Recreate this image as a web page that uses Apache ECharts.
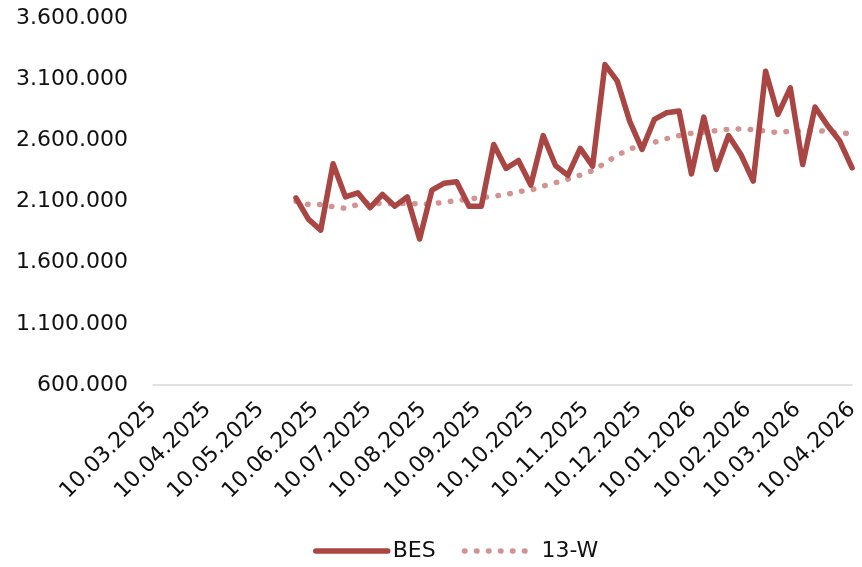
<!DOCTYPE html>
<html>
<head>
<meta charset="utf-8">
<script src="https://cdn.jsdelivr.net/npm/echarts@6/dist/echarts.min.js"></script>
<style>
  html, body { margin: 0; padding: 0; background: #fff; }
  #chart { width: 862px; height: 567px; }
</style>
</head>
<body>
<div id="chart"></div>
<script>
// weekly dates (yyyy-mm-dd)
var weeks = [
  '2025-05-30', '2025-06-06', '2025-06-13', '2025-06-20', '2025-06-27',
  '2025-07-04', '2025-07-11', '2025-07-18', '2025-07-25', '2025-08-01',
  '2025-08-08', '2025-08-15', '2025-08-22', '2025-08-29', '2025-09-05',
  '2025-09-12', '2025-09-19', '2025-09-26', '2025-10-03', '2025-10-10',
  '2025-10-17', '2025-10-24', '2025-10-31', '2025-11-07', '2025-11-14',
  '2025-11-21', '2025-11-28', '2025-12-05', '2025-12-12', '2025-12-19',
  '2025-12-26', '2026-01-02', '2026-01-09', '2026-01-16', '2026-01-23',
  '2026-01-30', '2026-02-06', '2026-02-13', '2026-02-20', '2026-02-27',
  '2026-03-06', '2026-03-13', '2026-03-20', '2026-03-27', '2026-04-03',
  '2026-04-10'
];
var bes = [
  2130000, 1956000, 1866000, 2408000, 2138000, 2171000, 2049000, 2158000, 2062000, 2138000,
  1793000, 2193000, 2250000, 2262000, 2062000, 2062000, 2566000, 2370000, 2435000, 2234000,
  2639000, 2394000, 2313000, 2534000, 2389000, 3219000, 3084000, 2757000, 2526000, 2771000,
  2826000, 2839000, 2326000, 2790000, 2362000, 2639000, 2484000, 2267000, 3165000, 2812000,
  3029000, 2402000, 2872000, 2723000, 2594000, 2375000
];
var w13 = [
  2103000, 2076000, 2076000, 2057000, 2044000, 2076000, 2089000, 2081000, 2084000, 2084000,
  2081000, 2079000, 2095000, 2107000, 2120000, 2132000, 2144000, 2156000, 2181000, 2193000,
  2226000, 2254000, 2283000, 2316000, 2352000, 2414000, 2479000, 2528000, 2565000, 2585000,
  2614000, 2638000, 2659000, 2667000, 2679000, 2691000, 2694000, 2687000, 2675000, 2663000,
  2675000, 2675000, 2683000, 2671000, 2659000, 2656000
];
var xTicks = [
  '10.03.2025', '10.04.2025', '10.05.2025', '10.06.2025', '10.07.2025',
  '10.08.2025', '10.09.2025', '10.10.2025', '10.11.2025', '10.12.2025',
  '10.01.2026', '10.02.2026', '10.03.2026', '10.04.2026'
];
var yTicks = [600000, 1100000, 1600000, 2100000, 2600000, 3100000, 3600000];

var FONT = 'DejaVu Sans';

function isoToTime(s) {
  var p = s.split('-');
  return Date.UTC(+p[0], +p[1] - 1, +p[2]);
}
function dmyToTime(s) {
  var p = s.split('.');
  return Date.UTC(+p[2], +p[1] - 1, +p[0]);
}
function fmtNum(v) {
  return String(v).replace(/\B(?=(\d{3})+(?!\d))/g, '.');
}

var tickTimes = xTicks.map(dmyToTime);

var option = {
  animation: false,
  backgroundColor: '#fff',
  textStyle: { fontFamily: FONT },
  grid: { left: 153, right: 4, top: 18, bottom: 182 },
  legend: {
    left: 308,
    top: 535,
    itemWidth: 72,
    itemHeight: 22,
    itemGap: 26,
    itemStyle: { opacity: 0 },
    lineStyle: { width: 'inherit' },
    textStyle: { fontFamily: FONT, fontSize: 22, color: '#111' },
    data: ['BES', '13-W']
  },
  xAxis: {
    type: 'value',
    min: tickTimes[0],
    max: tickTimes[tickTimes.length - 1],
    axisLine: { lineStyle: { color: '#D9D9D9', width: 1.5 } },
    axisTick: { show: false },
    splitLine: { show: false },
    axisLabel: {
      customValues: tickTimes,
      rotate: 45,
      margin: 21,
      hideOverlap: false,
      showMinLabel: true,
      showMaxLabel: true,
      fontFamily: FONT,
      fontSize: 22,
      color: '#111',
      formatter: function (v) {
        var i = tickTimes.indexOf(v);
        return i >= 0 ? xTicks[i] : '';
      }
    }
  },
  yAxis: {
    type: 'value',
    min: 600000,
    max: 3600000,
    axisLine: { show: false },
    axisTick: { show: false },
    splitLine: { show: false },
    axisLabel: {
      customValues: yTicks,
      margin: 25,
      fontFamily: FONT,
      fontSize: 22,
      color: '#111',
      formatter: fmtNum
    }
  },
  series: [
    {
      name: 'BES',
      type: 'line',
      symbol: 'none',
      data: weeks.map(function (d, i) { return [isoToTime(d), bes[i]]; }),
      lineStyle: { color: '#A94543', width: 5.5, cap: 'round', join: 'round' },
      itemStyle: { color: '#A94543' },
      z: 3
    },
    {
      name: '13-W',
      type: 'line',
      symbol: 'none',
      data: weeks.map(function (d, i) { return [isoToTime(d), w13[i]]; }),
      lineStyle: { color: '#D29393', width: 5.5, type: [0.5, 11.5], cap: 'round' },
      itemStyle: { color: '#D29393' },
      z: 2
    }
  ]
};

var myChart = echarts.init(document.getElementById('chart'));
myChart.setOption(option);
</script>
</body>
</html>
